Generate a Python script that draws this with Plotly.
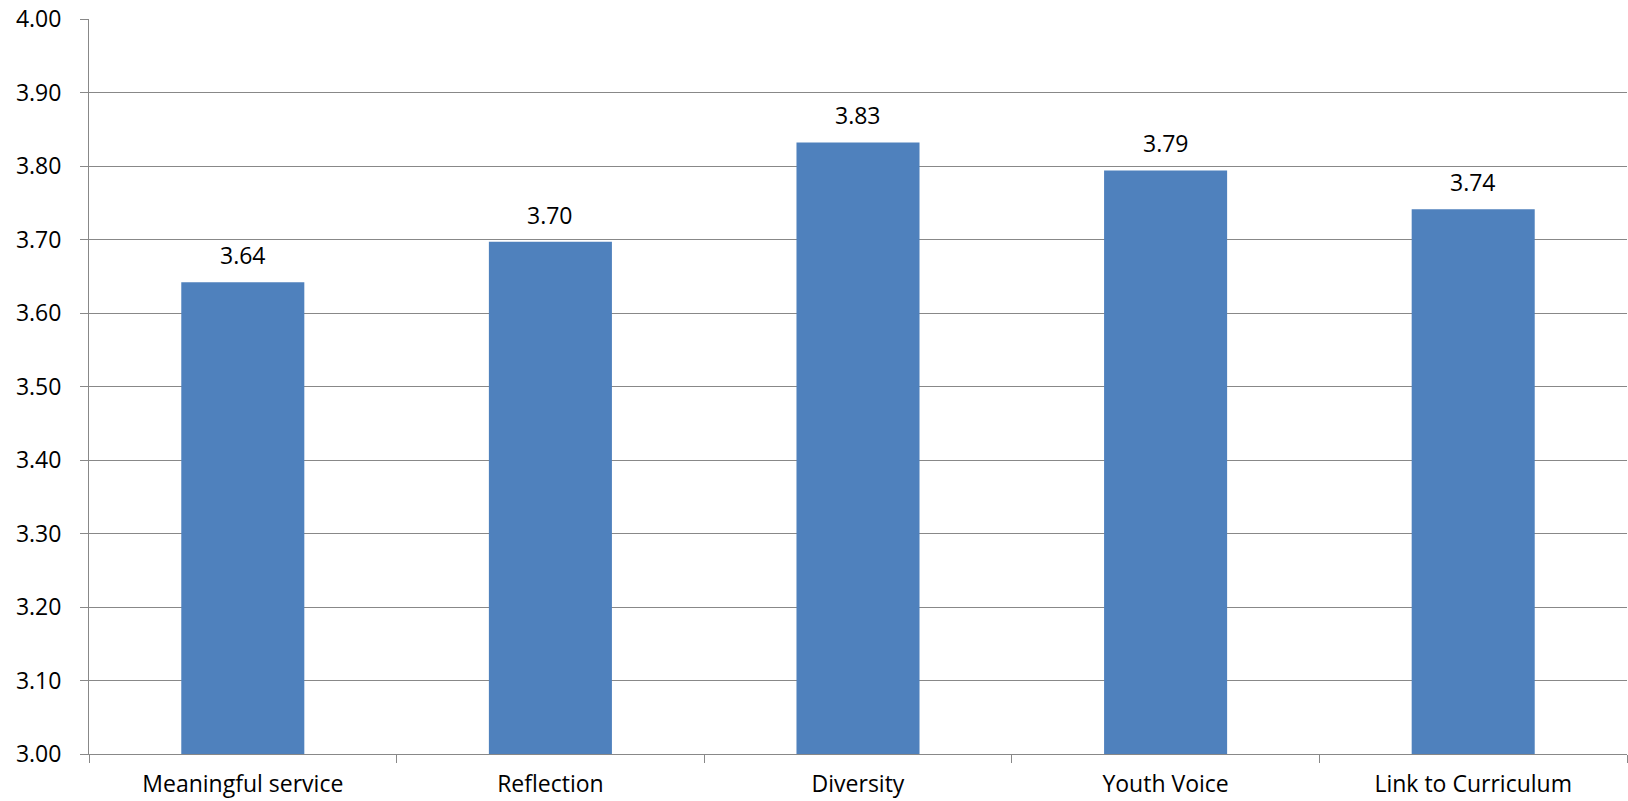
import plotly.graph_objects as go

categories = ["Meaningful service", "Reflection", "Diversity", "Youth Voice", "Link to Curriculum"]
scores = [3.642, 3.697, 3.832, 3.794, 3.741]
y_ticks = [3.0, 3.1, 3.2, 3.3, 3.4, 3.5, 3.6, 3.7, 3.8, 3.9, 4.0]

FONT = "Open Sans"
FONT_SIZE = 23
GRID = "#888888"

fig = go.Figure(
    go.Bar(
        x=categories,
        y=scores,
        width=0.4,
        marker=dict(color="#4F81BD", line=dict(width=0)),
        hoverinfo="skip",
    )
)

# value labels above each bar
for c, v in zip(categories, scores):
    fig.add_annotation(
        x=c, y=v, text=f"{v:.2f}", showarrow=False,
        yanchor="bottom", yshift=9,
        font=dict(family=FONT, size=FONT_SIZE, color="#000000"),
    )

fig.update_layout(
    width=1628, height=801,
    margin=dict(l=89, r=1, t=19, b=47),
    paper_bgcolor="white", plot_bgcolor="white",
    showlegend=False,
    bargap=0.6,
)
fig.update_xaxes(
    type="category", automargin=False,
    showline=True, linecolor=GRID, linewidth=1,
    ticks="outside", tickson="boundaries", ticklen=8, tickcolor=GRID,
    ticklabelstandoff=9,
    tickfont=dict(family=FONT, size=FONT_SIZE, color="#000000"),
    showgrid=False,
)
fig.update_yaxes(
    range=[3.0, 4.0], automargin=False,
    tickvals=y_ticks, ticktext=[f"{t:.2f}" for t in y_ticks],
    showline=True, linecolor=GRID, linewidth=1,
    ticks="outside", ticklen=8, tickcolor=GRID,
    ticklabelstandoff=14,
    showgrid=True, gridcolor=GRID, gridwidth=1,
    zeroline=False,
    tickfont=dict(family=FONT, size=FONT_SIZE, color="#000000"),
)

fig.write_html("out.html")
